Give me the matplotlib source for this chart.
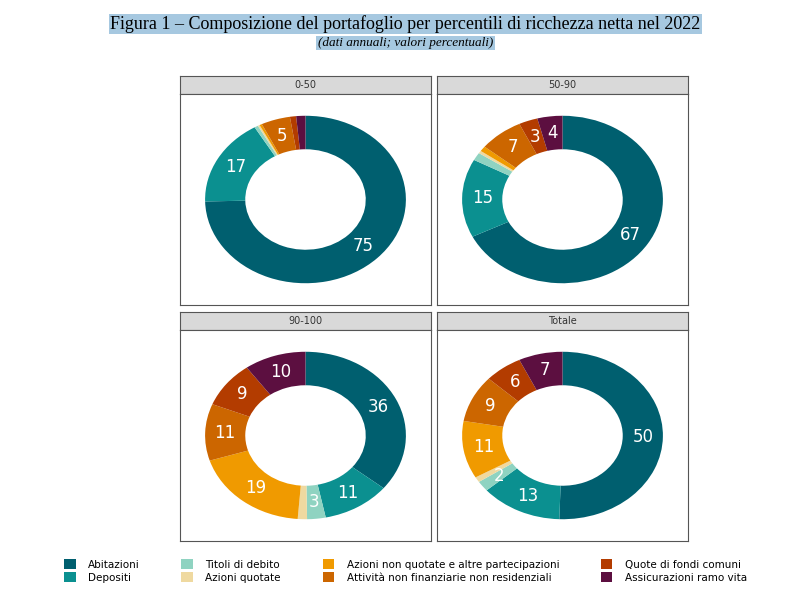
import numpy as np
import matplotlib.pyplot as plt
from matplotlib.patches import Patch

categories = ['Abitazioni', 'Depositi', 'Titoli di debito', 'Azioni quotate',
              'Azioni non quotate e altre partecipazioni',
              'Attività non finanziarie non residenziali',
              'Quote di fondi comuni', 'Assicurazioni ramo vita']
colors = ['#005f6f', '#0b9090', '#8fd3c1', '#efd9a0',
          '#f09a00', '#cc6600', '#b33c00', '#5c0f40']

panels = ['0-50', '50-90', '90-100', 'Totale']
values = {
    '0-50':   [75, 17, 0.6, 0.3, 0.4, 4.7, 1.0, 1.5],
    '50-90':  [67, 15, 1.5, 0.5, 1.0, 7, 3, 4],
    '90-100': [36, 11, 3, 1.5, 19, 11, 9, 10],
    'Totale': [50, 13, 2, 1, 11, 9, 6, 7],
}

W, H = 811, 598
fig = plt.figure(figsize=(W / 100, H / 100), dpi=100)

# panel boxes in pixels: (left, top of strip)
boxes = {'0-50': (180, 76), '50-90': (437, 76), '90-100': (180, 312), 'Totale': (437, 312)}
bw, strip_h, plot_h = 251, 18, 211

for name in panels:
    x0, y0 = boxes[name]
    sax = fig.add_axes([x0 / W, 1 - (y0 + strip_h) / H, bw / W, strip_h / H])
    sax.set_facecolor('#d9d9d9')
    sax.set_xticks([]); sax.set_yticks([])
    for s in sax.spines.values():
        s.set_color('#555555'); s.set_linewidth(0.8)
    sax.text(0.5, 0.5, name, ha='center', va='center', fontsize=7, color='#333333')

    ax = fig.add_axes([x0 / W, 1 - (y0 + strip_h + plot_h) / H, bw / W, plot_h / H])
    vals = values[name]
    ax.pie(vals, colors=colors, startangle=90, counterclock=False,
           wedgeprops=dict(width=0.4, linewidth=0))
    # labels inside the ring
    tot = sum(vals)
    cum = 0
    for v in vals:
        mid = 90 - 360 * (cum + v / 2) / tot
        cum += v
        if v >= 2:
            r = 0.8
            ax.text(r * np.cos(np.radians(mid)), r * np.sin(np.radians(mid)),
                    f'{round(v)}', ha='center', va='center', color='white', fontsize=12)
    ax.set_aspect('auto')
    ax.set_xlim(-1.25, 1.25)
    ax.set_ylim(-1.26, 1.26)
    ax.set_frame_on(True)
    ax.set_xticks([]); ax.set_yticks([])
    for s in ax.spines.values():
        s.set_visible(True); s.set_color('#555555'); s.set_linewidth(0.8)

fig.text(0.5, 1 - 24 / H, 'Figura 1 – Composizione del portafoglio per percentili di ricchezza netta nel 2022',
         ha='center', va='center', fontsize=13, family='Liberation Serif',
         bbox=dict(facecolor='#a6c8e0', edgecolor='none', pad=1))
fig.text(0.5, 1 - 43 / H, '(dati annuali; valori percentuali)', ha='center', va='center',
         fontsize=9.5, style='italic', family='Liberation Serif',
         bbox=dict(facecolor='#a6c8e0', edgecolor='none', pad=1))

handles = [Patch(facecolor=c, label=l) for c, l in zip(colors, categories)]
fig.legend(handles=handles, ncol=4, loc='center', bbox_to_anchor=(0.5, 1 - 571 / H),
           frameon=False, fontsize=7.5, handlelength=1.1, handleheight=1.1,
           columnspacing=4, labelspacing=0.2, handletextpad=1.2)

fig.savefig('out.png', dpi=100)
